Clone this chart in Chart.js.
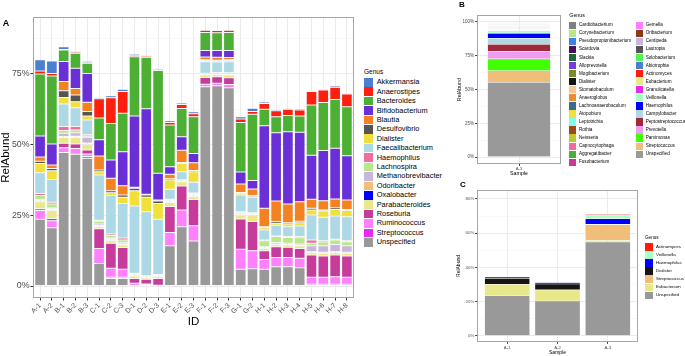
<!DOCTYPE html>
<html><head><meta charset="utf-8">
<script src="https://cdn.jsdelivr.net/npm/chart.js@4.4.1/dist/chart.umd.min.js"></script>
<style>
html,body{margin:0;padding:0;background:#fff;width:685px;height:356px;overflow:hidden;font-family:'Liberation Sans',Arial,sans-serif;}
canvas{position:absolute;}
.lbl{position:absolute;white-space:nowrap;line-height:1;color:#000 !important;background:transparent;transform:translateY(-50%);}
.key{position:absolute;overflow:hidden;}
.tag{position:absolute;font-weight:bold;line-height:1;color:#000;transform:translate(-50%,-50%);}
</style></head><body>
<canvas id="cA" width="360" height="356" style="left:0px;top:0px"></canvas>
<canvas id="cB" width="110" height="180" style="left:455px;top:0px"></canvas>
<canvas id="cC" width="185" height="180" style="left:455px;top:176px"></canvas>
<div class="tag" style="left:6px;top:23px;font-size:9px">A</div>
<div class="tag" style="left:462px;top:5px;font-size:8px">B</div>
<div class="tag" style="left:463px;top:185px;font-size:8px">C</div>
<script>
// ---------- Panel A data ----------
const samplesA = ['A-1','A-2','B-1','B-2','B-3','C-1','C-2','C-3','D-1','D-2','D-3','E-1','E-2','E-3','F-1','F-2','F-3','G-1','G-2','H-1','H-2','H-3','H-4','H-5','H-6','H-7','H-8'];
const genusA = ['Akkermansia','Anaerostipes','Bacteroides','Bifidobacterium','Blautia','Desulfovibrio','Dialister','Faecalibacterium','Haemophilus','Lachnospira','Methanobrevibacter','Odoribacter','Oxalobacter','Parabacteroides','Roseburia','Ruminococcus','Streptococcus','Unspecified'];
const A_Akkermansia        = [3.9,4.4,0.9,0.3,0.5,0.5,0.7,0.8,0.5,0.3,0.2,0.7,0.5,0.7,0.1,0.1,0.1,0.8,1.2,0.5,0.4,0.4,0.4,0.3,0.4,0.5,0.4];
const A_Anaerostipes       = [1.1,0.9,0.2,0.5,0.2,6.8,9.1,7.7,0.5,0.5,0.5,0.8,1.4,1.0,0.8,0.8,0.8,1.3,0.9,2.1,2.1,2.2,2.2,4.8,4.4,4.3,4.5];
const A_Bacteroides        = [21.9,24.1,4.1,5.3,3.6,7.7,12.9,13.6,21.0,18.2,36.3,14.8,10.0,13.0,6.4,6.3,6.4,17.5,23.5,5.8,5.7,5.7,5.7,17.7,17.0,17.3,17.3];
const A_Bifidobacterium    = [7.5,7.4,7.1,7.1,10.2,5.7,6.5,12.0,25.2,30.2,9.5,2.7,4.8,3.3,2.3,2.4,2.5,4.2,3.0,29.2,24.1,25.6,24.6,15.6,17.7,17.9,15.7];
const A_Blautia            = [1.5,1.2,3.2,2.3,3.3,5.0,4.4,3.3,0.3,0.3,0.3,1.6,4.3,2.7,1.0,1.0,0.7,3.0,2.3,6.5,7.3,6.6,6.9,3.2,3.3,3.1,3.3];
const A_Desulfovibrio      = [0.8,0.8,2.4,2.4,1.6,0.6,0.7,0.8,0.9,0.8,0.9,0.4,0.4,0.5,0.3,0.3,0.3,0.3,0.4,0.4,0.6,0.5,0.5,0.6,0.4,0.6,0.4];
const A_Dialister          = [3.2,3.1,2.3,2.1,1.4,1.1,1.0,2.2,5.4,5.1,5.6,3.3,2.9,3.7,0.4,0.4,0.5,0.6,0.2,0.8,0.7,0.9,1.2,1.8,2.2,2.3,2.2];
const A_Faecalibacterium   = [7.4,8.1,8.0,6.7,5.2,16.0,13.6,12.2,23.8,22.7,19.5,3.5,2.8,3.8,4.0,3.7,3.9,5.9,5.5,3.5,3.8,3.5,3.7,8.8,8.3,8.3,8.5];
const A_Haemophilus        = [0.7,0.6,1.4,1.2,0.4,0.4,0.5,0.7,0.2,0.1,0.2,0.2,0.1,0.3,0.1,0.1,0.1,0.2,0.1,0.3,0.2,0.3,0.4,1.2,0.4,0.2,0.3];
const A_Lachnospira        = [1.4,1.4,1.0,1.0,0.5,1.0,0.9,1.0,0.2,0.1,0.1,0.3,0.1,0.3,0.4,0.4,0.5,0.3,0.2,2.1,2.1,2.1,2.2,0.9,1.4,1.6,1.5];
const A_Methanobrevibacter = [0.2,0.3,1.1,1.2,2.0,0.5,0.4,0.4,0.2,0.2,0.2,0.3,0.2,0.3,0.1,0.1,0.1,0.3,0.2,0.2,0.5,0.4,0.5,2.1,2.3,2.6,2.3];
const A_Odoribacter        = [0.2,0.2,0.2,0.2,0.2,0.2,0.2,0.2,0.2,0.1,0.1,0.2,0.2,0.2,0.1,0.1,0.1,0.2,0.1,0.2,0.1,0.1,0.1,0.2,0.2,0.2,0.2];
const A_Oxalobacter        = [0.4,0.4,0.2,0.3,0.3,0.2,0.4,0.2,0.2,0.2,0.2,0.2,0.1,0.2,0,0,0,0.2,0.2,0.2,0.1,0.1,0.1,0.1,0.1,0.1,0.1];
const A_Parabacteroides    = [2.5,2.8,2.0,2.3,2.0,0.7,0.9,0.9,0.8,0.5,0.6,1.4,1.5,1.0,0.8,0.8,0.9,1.4,2.3,0.8,0.8,0.8,0.9,0.8,1.0,0.8,1.0];
const A_Roseburia          = [0.6,0.8,1.6,1.6,1.4,7.0,8.8,7.7,1.7,1.7,2.4,9.2,8.5,9.3,2.4,2.3,2.4,10.7,10.3,3.1,3.8,3.6,3.5,7.9,7.5,7.7,7.5];
const A_Ruminococcus       = [3.1,2.5,1.7,2.0,0.9,5.3,3.2,2.8,0.3,0.2,0.1,4.7,5.9,5.4,0.9,0.9,1.2,7.1,6.4,3.5,3.3,3.3,3.3,2.5,2.5,2.7,2.5];
const A_Streptococcus      = [0,0,0,0,0.6,0,0.4,0.4,0.5,0.3,0.2,0,0,0,0,0,0,0,0,0,0,0,0,0.6,0.6,0.6,0.6];
const A_Unspecified        = [23.6,20.6,47.2,46.6,45.2,8.0,2.7,2.7,0.2,0.2,0,14.2,21.0,15.9,70.5,70.8,70.1,5.9,6.1,5.9,6.8,6.8,6.5,0,0,0,0];
const seriesA = [A_Akkermansia,A_Anaerostipes,A_Bacteroides,A_Bifidobacterium,A_Blautia,A_Desulfovibrio,A_Dialister,A_Faecalibacterium,A_Haemophilus,A_Lachnospira,A_Methanobrevibacter,A_Odoribacter,A_Oxalobacter,A_Parabacteroides,A_Roseburia,A_Ruminococcus,A_Streptococcus,A_Unspecified];
const yMajorA = [0,25,50,75];
const yMinorA = [12.5,37.5,62.5,87.5];

// ---------- Panel B data (sample A-3) ----------
const samplesB = ['A-3'];
const genusB = ['Cardiobacterium','Corynebacterium','Pseudopropionibacterium','Scardovia','Slackia','Alloprevotella','Mogibacterium','Dialister','Stomatobaculum','Anaeroglobus','Lachnoanaerobaculum','Atopobium','Leptotrichia','Rothia','Neisseria','Capnocytophaga','Aggregatibacter','Fusobacterium','Gemella','Oribacterium','Centipeda','Lautropia','Solobacterium','Abiotrophia','Actinomyces','Eubacterium','Granulicatella','Veillonella','Haemophilus','Campylobacter','Peptostreptococcus','Prevotella','Parvimonas','Streptococcus','Unspecified'];
const valuesB = [0.4,0.2,0.1,0.1,0.1,0.1,0.2,0.1,0.1,0.1,0.1,0.1,0.5,0.2,0.2,0.3,0.4,0.4,0.6,0.2,0.5,0.2,0.2,0.2,0.3,0.3,0.4,1.8,3.8,4.4,5.2,5.6,8.8,8.5,55.3];
const yMajorB = [0,25,50,75,100];
const yMinorB = [12.5,37.5,62.5,87.5];

// ---------- Panel C data ----------
const samplesC = ['A-1','A-2','A-3'];
const genusC = ['Actinomyces','Veillonella','Haemophilus','Dialister','Streptococcus','Eubacterium','Unspecified'];
const C_Actinomyces   = [0,0,0.5];
const C_Veillonella   = [0,0,2.2];
const C_Haemophilus   = [0.8,0.9,3.3];
const C_Dialister     = [3.5,3.5,0.2];
const C_Streptococcus = [0,0,9.1];
const C_Eubacterium   = [6.6,6.5,1.0];
const C_Unspecified   = [23.6,20.4,54.9];
const seriesC = [C_Actinomyces,C_Veillonella,C_Haemophilus,C_Dialister,C_Streptococcus,C_Eubacterium,C_Unspecified];
const yMajorC = [0,20,40,60,80];
const yMinorC = [10,30,50,70];

// ---------- colours ----------
const colorA = {Akkermansia:'#4A80CF',Anaerostipes:'#FF1F0F',Bacteroides:'#4DAF33',Bifidobacterium:'#6A2FD6',Blautia:'#F58220',Desulfovibrio:'#555555',Dialister:'#F2E03A',Faecalibacterium:'#ADD8E6',Haemophilus:'#F06DA0',Lachnospira:'#B9E88B',Methanobrevibacter:'#C9B5DC',Odoribacter:'#F0BE78',Oxalobacter:'#0000FF',Parabacteroides:'#E9E98A',Roseburia:'#C73C9B',Ruminococcus:'#FF80FF',Streptococcus:'#E62AF0',Unspecified:'#999999'};
const colorB = {Cardiobacterium:'#808080',Corynebacterium:'#B8E68A',Pseudopropionibacterium:'#3D7FE6',Scardovia:'#4A0E57',Slackia:'#1E6B35',Alloprevotella:'#7A3CD6',Mogibacterium:'#7A8C28',Dialister:'#151515',Stomatobaculum:'#F5C79A',Anaeroglobus:'#F28B30',Lachnoanaerobaculum:'#3D6A8F',Atopobium:'#F0E03A',Leptotrichia:'#7FFFEE',Rothia:'#A0461A',Neisseria:'#BDC92F',Capnocytophaga:'#F06BA0',Aggregatibacter:'#4DAF32',Fusobacterium:'#C43A99',Gemella:'#FF80FF',Oribacterium:'#8B3A12',Centipeda:'#C8B4DC',Lautropia:'#555555',Solobacterium:'#55F055',Abiotrophia:'#4A7FCC',Actinomyces:'#FF1A0A',Eubacterium:'#E8E88A',Granulicatella:'#E628F0',Veillonella:'#A8FFC8',Haemophilus:'#0000FF',Campylobacter:'#ADD8E6',Peptostreptococcus:'#A0283C',Prevotella:'#F09AF0',Parvimonas:'#40FF00',Streptococcus:'#F0BE78',Unspecified:'#999999'};
const colorC = {Actinomyces:'#FF1A0A',Veillonella:'#A8FFC8',Haemophilus:'#0000FF',Dialister:'#151515',Streptococcus:'#F0BE78',Eubacterium:'#E8E88A',Unspecified:'#999999'};

Chart.defaults.font.family = "'Liberation Sans', Arial, sans-serif";
Chart.defaults.color = '#4D4D4D';

const framePlugin = {id:'frame', afterDraw(chart){
  const a = chart.chartArea, c = chart.ctx;
  c.save(); c.strokeStyle = '#A6A6A6'; c.lineWidth = 1;
  const l = Math.round(a.left)+0.5, t = Math.round(a.top)+0.5, r = Math.round(a.right)-0.5, b = Math.round(a.bottom)-0.5;
  c.strokeRect(l, t, r-l, b-t); c.restore();
}};

function build(id, labels, names, series, colors, o){
  const datasets = names.map((n,i)=>({
    label:n, data:series[i], backgroundColor:colors[n],
    borderColor:'rgba(240,240,240,0.9)', borderWidth:c => c.raw ? o.edgeW : 0, borderSkipped:false,
    barPercentage:o.barPct, categoryPercentage:1
  })).reverse();
  const isMinor = v => o.yMinor.includes(v);
  return new Chart(document.getElementById(id), {
    type:'bar',
    data:{labels, datasets},
    options:{
      responsive:false, animation:false, events:[],
      layout:{padding:o.pad},
      plugins:{legend:{display:false}, tooltip:{enabled:false}},
      scales:{
        x:{stacked:true, offset:true,
          afterBuildTicks: s => { if (o.ggx) { s._startValue = -0.6; s._valueRange = labels.length - 1 + 1.2; } },
          afterFit: s => { s.height = o.xH; },
          grid:{offset:false, color:'#EBEBEB', lineWidth:1, tickColor:'#333333', tickLength:o.tl},
          border:{display:false},
          ticks:{autoSkip:false, maxRotation:o.rot, minRotation:o.rot, padding:o.xPad, font:{size:o.xFont}, color:'#4D4D4D'},
          title:{display:true, text:o.xTitle, color:'#000', font:{size:o.titleFont, lineHeight:1.2}, padding:{top:0,bottom:0}}
        },
        y:{stacked:true, min:o.yMin, max:o.yMax, bounds:'data',
          afterBuildTicks: s => { s.ticks = o.yMajor.concat(o.yMinor).sort((a,b)=>a-b).map(v=>({value:v})); },
          afterFit: s => { s.width = o.yW; },
          grid:{color:c => isMinor(c.tick && c.tick.value) ? '#F4F4F4' : '#EBEBEB',
                lineWidth:c => isMinor(c.tick && c.tick.value) ? 0.6 : 1,
                tickColor:c => isMinor(c.tick && c.tick.value) ? 'rgba(0,0,0,0)' : '#333333',
                tickLength:o.tl},
          border:{display:false},
          ticks:{autoSkip:false, padding:o.yPad, font:{size:o.yFont}, color:'#4D4D4D', callback:v => isMinor(v) ? '' : v + '%'},
          title:{display:true, text:'RelAbund', color:'#000', font:{size:o.titleFont, lineHeight:1}, padding:{top:o.yTitlePad, bottom:0}}
        }
      }
    },
    plugins:[framePlugin]
  });
}

build('cA', samplesA, genusA, seriesA, colorA, {
  pad:{top:17,right:6,bottom:27,left:0}, xH:31, yW:33, tl:2.5, rot:45, xPad:1, yPad:1,
  xFont:7, yFont:8.8, titleFont:11.5, yTitlePad:0.5, xTitle:'ID', ggx:true, barPct:0.9, edgeW:0.5,
  yMin:-4.24, yMax:95.16, yMajor:yMajorA, yMinor:yMinorA
});
build('cB', samplesB, genusB, valuesB.map(v=>[v]), colorB, {
  pad:{top:15,right:4,bottom:3.5,left:0}, xH:12.5, yW:22, tl:1.8, rot:0, xPad:1, yPad:1,
  xFont:4.2, yFont:4.6, titleFont:5.3, yTitlePad:1.5, xTitle:'Sample', ggx:false, barPct:0.75, edgeW:0.3,
  yMin:-5, yMax:105, yMajor:yMajorB, yMinor:yMinorB
});
build('cC', samplesC, genusC, seriesC, colorC, {
  pad:{top:14,right:2,bottom:0.3,left:0}, xH:13.7, yW:22, tl:1.8, rot:0, xPad:1, yPad:1,
  xFont:4.3, yFont:4.3, titleFont:5, yTitlePad:1.5, xTitle:'Sample', ggx:true, barPct:0.9, edgeW:0.3,
  yMin:-3.51, yMax:85.25, yMajor:yMajorC, yMinor:yMinorC
});

// ---------- HTML legends ----------
function legend(title, names, colors, o){
  const add = (cls, css, txt) => { const d = document.createElement('div'); d.className = cls; Object.assign(d.style, css); if (txt) d.textContent = txt; document.body.appendChild(d); };
  add('lbl', {left:o.x+'px', top:o.titleY+'px', fontSize:o.titleSize+'px'}, title);
  names.forEach((n,i) => {
    const col = Math.floor(i / o.perCol), row = i % o.perCol;
    const cy = o.y0 + row * o.step;
    add('key', {left:o.keyX[col]+'px', top:(cy - o.key/2)+'px', width:o.key+'px', height:o.key+'px', backgroundColor:colors[n]});
    add('lbl', {left:o.textX[col]+'px', top:cy+'px', fontSize:o.size+'px', color:'#000'}, n);
  });
}
legend('Genus', genusA, colorA, {x:364, titleY:71.7, titleSize:6.5, perCol:18, y0:82.3, step:9.41, keyX:[364], textX:[376.7], key:8.6, size:7.4});
legend('Genus', genusB, colorB, {x:569.3, titleY:15.7, titleSize:5.3, perCol:18, y0:25.3, step:8.06, keyX:[569,635.7], textX:[579,645.7], key:7.3, size:4.6});
legend('Genus', genusC, colorC, {x:645, titleY:238.3, titleSize:4.6, perCol:7, y0:247, step:8.05, keyX:[645], textX:[656], key:7.5, size:4.4});
</script>
</body></html>
